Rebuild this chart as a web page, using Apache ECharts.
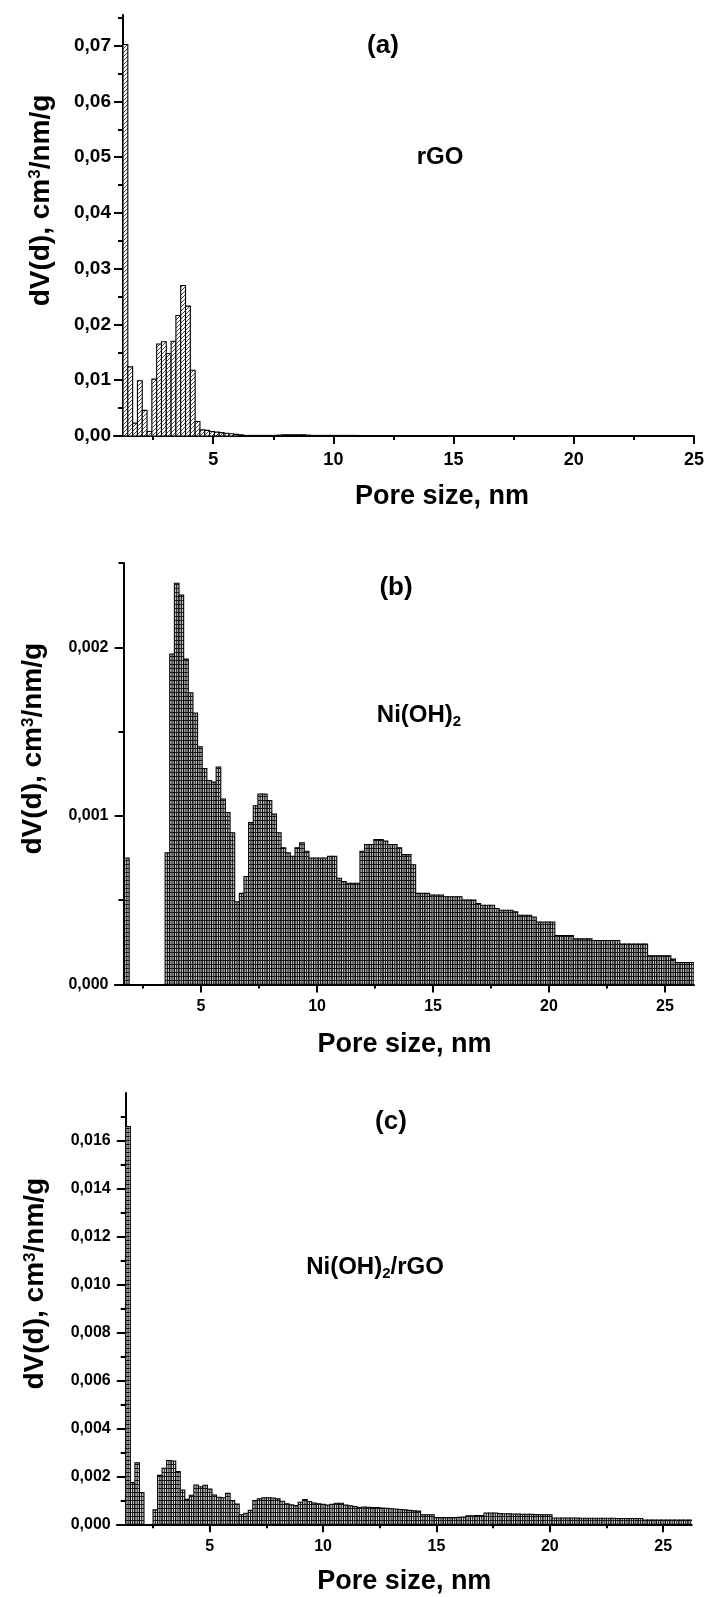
<!DOCTYPE html>
<html><head><meta charset="utf-8">
<script src="https://cdn.jsdelivr.net/npm/echarts@6/dist/echarts.min.js"></script>
<style>html,body{margin:0;padding:0;background:#fff}#c{width:708px;height:1597px}</style>
</head><body><div id="c"></div>
<script>
const FONT = '"Liberation Sans", Arial, Helvetica, sans-serif';

// ---------- data ----------
// (a) rGO : bin centres (nm) and dV(d) values
const rgoSize = [1.35,1.55,1.75,1.95,2.15,2.35,2.55,2.75,2.95,3.15,3.35,3.55,3.75,3.95,4.15,4.35,4.55,4.75,4.95,5.15,5.35,5.55,5.75,5.95,6.15,6.35,6.55,6.75,6.95,7.15,7.35,7.55,7.75,7.95,8.15,8.35,8.55,8.75,8.95,9.15,9.35,9.55,9.75,9.95,10.15,10.35,10.55,10.75,10.95];
const rgoDV = [0.0702,0.0124,0.0023,0.0099,0.0046,0.0008,0.0102,0.0165,0.0169,0.0148,0.0170,0.0216,0.0270,0.0233,0.0118,0.0026,0.0011,0.0010,0.0008,0.0007,0.0006,0.0005,0.0004,0.0003,0.0002,0.0001,0.0001,0.0001,0.0001,0.0001,0.0001,0.0001,0.00015,0.0002,0.0002,0.0002,0.0002,0.0002,0.00015,0.0001,0.0001,0.0001,0.0001,0.0001,0.0001,0.0001,0.0001,0.0001,0.0001];

// (b) Ni(OH)2
const niohSize = [1.8,3.55,3.75,3.95,4.15,4.35,4.55,4.75,4.95,5.15,5.35,5.55,5.75,5.95,6.15,6.35,6.55,6.75,6.95,7.15,7.35,7.55,7.75,7.95,8.15,8.35,8.55,8.75,8.95,9.15,9.35,9.55,9.75,9.95,10.15,10.35,10.55,10.75,10.95,11.15,11.35,11.55,11.75,11.95,12.15,12.35,12.55,12.75,12.95,13.15,13.35,13.55,13.75,13.95,14.15,14.35,14.55,14.75,14.95,15.15,15.35,15.55,15.75,15.95,16.15,16.35,16.55,16.75,16.95,17.15,17.35,17.55,17.75,17.95,18.15,18.35,18.55,18.75,18.95,19.15,19.35,19.55,19.75,19.95,20.15,20.35,20.55,20.75,20.95,21.15,21.35,21.55,21.75,21.95,22.15,22.35,22.55,22.75,22.95,23.15,23.35,23.55,23.75,23.95,24.15,24.35,24.55,24.75,24.95,25.15,25.35,25.55,25.75,25.95,26.15];
const niohDV = [0.00075,
 0.00078,0.00196,0.00238,0.00231,0.00193,0.00173,0.00161,0.00141,0.00128,0.00121,
 0.00120,0.00129,0.00110,0.00102,0.00090,0.00049,0.00054,0.00064,0.00096,0.00106,
 0.00113,0.00113,0.00109,0.00101,0.00090,0.00081,0.00078,0.00076,0.00081,0.00084,
 0.00079,0.00075,0.00075,0.00075,0.00075,0.00076,0.00076,0.00063,0.00061,0.00060,
 0.00060,0.00060,0.00079,0.00083,0.00083,0.00086,0.00086,0.00085,0.00083,0.00083,
 0.00081,0.00077,0.00077,0.00071,0.00054,0.00054,0.00054,0.00053,0.00053,0.00053,
 0.00052,0.00052,0.00052,0.00052,0.00050,0.00050,0.00050,0.00048,0.00047,0.00047,
 0.00047,0.00045,0.00044,0.00044,0.00044,0.00043,0.00041,0.00041,0.00041,0.00040,
 0.00037,0.00037,0.00037,0.00037,0.00029,0.00029,0.00029,0.00029,0.00027,0.00027,
 0.00027,0.00027,0.00026,0.00026,0.00026,0.00026,0.00026,0.00026,0.00024,0.00024,
 0.00024,0.00024,0.00024,0.00024,0.00017,0.00017,0.00017,0.00017,0.00017,0.00015,
 0.00013,0.00013,0.00013,0.00013];

// (c) Ni(OH)2/rGO
const compSize = [1.4,1.6,1.8,2.0,2.2,2.4,2.6,2.8,3.0,3.2,3.4,3.6,3.8,4.0,4.2,4.4,4.6,4.8,5.0,5.2,5.4,5.6,5.8,6.0,6.2,6.4,6.6,6.8,7.0,7.2,7.4,7.6,7.8,8.0,8.2,8.4,8.6,8.8,9.0,9.2,9.4,9.6,9.8,10.0,10.2,10.4,10.6,10.8,11.0,11.2,11.4,11.6,11.8,12.0,12.2,12.4,12.6,12.8,13.0,13.2,13.4,13.6,13.8,14.0,14.2,14.4,14.6,14.8,15.0,15.2,15.4,15.6,15.8,16.0,16.2,16.4,16.6,16.8,17.0,17.2,17.4,17.6,17.8,18.0,18.2,18.4,18.6,18.8,19.0,19.2,19.4,19.6,19.8,20.0,20.2,20.4,20.6,20.8,21.0,21.2,21.4,21.6,21.8,22.0,22.2,22.4,22.6,22.8,23.0,23.2,23.4,23.6,23.8,24.0,24.2,24.4,24.6,24.8,25.0,25.2,25.4,25.6,25.8,26.0,26.2];
const compDV = [
 0.0166,0.00174,0.00257,0.00132,0,0,0.0006,0.00204,0.00234,0.00266,
 0.00264,0.0022,0.00143,0.00104,0.00121,0.00164,0.00157,0.00163,0.00147,0.00122,
 0.00113,0.00111,0.00129,0.00099,0.00085,0.0004,0.00046,0.00058,0.00099,0.00106,
 0.00111,0.00111,0.0011,0.00106,0.00096,0.00086,0.00081,0.00078,0.00092,0.00103,
 0.00095,0.00089,0.00086,0.00083,0.0008,0.00083,0.00088,0.00088,0.0008,0.00077,
 0.00074,0.0007,0.00072,0.00071,0.0007,0.0007,0.00068,0.00067,0.00065,0.00064,
 0.00062,0.0006,0.00058,0.00056,0.00055,0.0004,0.0004,0.0004,0.00028,0.00028,
 0.00028,0.00028,0.00028,0.00029,0.0003,0.00035,0.00035,0.00036,0.00036,0.00047,
 0.00047,0.00047,0.00045,0.00044,0.00044,0.00043,0.00043,0.00042,0.00042,0.00042,
 0.00041,0.0004,0.0004,0.0004,0.00026,0.00026,0.00026,0.00026,0.00026,0.00026,
 0.00025,0.00025,0.00025,0.00025,0.00025,0.00025,0.00025,0.00025,0.00024,0.00024,
 0.00024,0.00024,0.00024,0.00024,0.00018,0.00018,0.00018,0.00018,0.00018,0.00018,
 0.00018,0.00018,0.00018,0.00018,0.00018];

// tick values
const xMajor = [5,10,15,20,25];
const xMinor = [2.5,7.5,12.5,17.5,22.5];
const yMajorA = [0,0.01,0.02,0.03,0.04,0.05,0.06,0.07];
const yMinorA = [0.005,0.015,0.025,0.035,0.045,0.055,0.065,0.075];
const yMajorB = [0,0.001,0.002];
const yMinorB = [0.0005,0.0015,0.0025];
const yMajorC = [0,0.002,0.004,0.006,0.008,0.010,0.012,0.014,0.016];
const yMinorC = [0.001,0.003,0.005,0.007,0.009,0.011,0.013,0.015,0.017];

const BIN = 0.2;

// ---------- patterns ----------
function diagPattern(){
  const c = document.createElement('canvas'); c.width = 4; c.height = 4;
  const g = c.getContext('2d');
  g.fillStyle = '#fff'; g.fillRect(0,0,4,4);
  g.strokeStyle = '#333'; g.lineWidth = 0.9;
  g.beginPath(); g.moveTo(-1,5); g.lineTo(5,-1); g.moveTo(-1,1); g.lineTo(1,-1); g.moveTo(3,5); g.lineTo(5,3); g.stroke();
  return {image: c, repeat: 'repeat'};
}
function ladderPattern(bg){
  const c = document.createElement('canvas'); c.width = 4; c.height = 4;
  const g = c.getContext('2d');
  g.fillStyle = bg; g.fillRect(0,0,4,4);
  g.fillStyle = '#222'; g.fillRect(0,0,4,1);
  return {image: c, repeat: 'repeat'};
}
const patA = diagPattern();
const patB = ladderPattern('#c2c2c2');
const patC = ladderPattern('#d6d6d6');

function makeRender(fill, centerLine){
  return function(params, api){
    const x = api.value(0), y = api.value(1);
    if (!(y > 0)) return null;
    const p0 = api.coord([x - BIN/2, y]);
    const p1 = api.coord([x + BIN/2, 0]);
    const shape = {x: p0[0], y: p0[1], width: p1[0]-p0[0], height: p1[1]-p0[1]};
    const children = [{type:'rect', shape: shape, style:{fill: fill, stroke:'#000', lineWidth: 1.1}}];
    if (centerLine){
      const cx = (p0[0]+p1[0])/2;
      children.push({type:'line', shape:{x1:cx, y1:p0[1], x2:cx, y2:p1[1]}, style:{stroke:'#111', lineWidth:1}});
    }
    return {type:'group', children: children};
  };
}

// ---------- axes helpers ----------
const AXC = '#000';
function xAxesFor(gi, min, max, fs, margin, nameGap, namePad){
  return [
    {type:'value', gridIndex:gi, min:min, max:max, position:'bottom',
     axisLine:{show:true, onZero:false, lineStyle:{color:AXC, width:2}},
     axisTick:{show:true, customValues:xMajor, length:8, lineStyle:{color:AXC, width:2}},
     axisLabel:{show:true, customValues:xMajor, color:'#000', fontFamily:FONT, fontWeight:'bold', fontSize:fs, margin:margin,
       formatter: v => String(v)},
     splitLine:{show:false},
     name:'Pore size, nm', nameLocation:'middle', nameGap:nameGap,
     nameTextStyle:{fontFamily:FONT, fontWeight:'bold', fontSize:27, color:'#000', padding:namePad}},
    {type:'value', gridIndex:gi, min:min, max:max, position:'bottom',
     axisLine:{show:false}, axisLabel:{show:false}, splitLine:{show:false},
     axisTick:{show:true, customValues:xMinor, length:4, lineStyle:{color:AXC, width:2}}}
  ];
}
function yAxesFor(gi, max, major, minor, digits, fs, margin, offset, nameGap){
  const rich = {
    a:{fontFamily:FONT, fontWeight:'bold', fontSize:28, color:'#000', verticalAlign:'bottom'},
    s:{fontFamily:FONT, fontWeight:'bold', fontSize:17, color:'#000', verticalAlign:'top', lineHeight:17, padding:[0,0,14,0]}
  };
  return [
    {type:'value', gridIndex:gi, min:0, max:max, position:'left', offset:offset,
     axisLine:{show:true, onZero:false, lineStyle:{color:AXC, width:2}},
     axisTick:{show:true, customValues:major, length:9, lineStyle:{color:AXC, width:2}},
     axisLabel:{show:true, customValues:major, color:'#000', fontFamily:FONT, fontWeight:'bold', fontSize:fs, margin:margin,
       formatter: v => Number(v).toFixed(digits).replace('.', ',')},
     splitLine:{show:false},
     name:'{a|dV(d), cm}{s|3}{a|/nm/g}', nameLocation:'middle', nameGap:nameGap, nameRotate:90,
     nameTextStyle:{rich: rich, padding:[0,0,0,50]}},
    {type:'value', gridIndex:gi, min:0, max:max, position:'left', offset:offset,
     axisLine:{show:false}, axisLabel:{show:false}, splitLine:{show:false},
     axisTick:{show:true, customValues:minor, length:5, lineStyle:{color:AXC, width:2}}}
  ];
}

const chart = echarts.init(document.getElementById('c'), null, {renderer:'canvas'});

const xAxis = [].concat(
  xAxesFor(0, 0.875, 25, 18, 15, 47, [0,0,0,76]),
  xAxesFor(1, 1.29, 26.25, 16, 14, 47, [0,0,0,0]),
  xAxesFor(2, 0.91, 26.26, 16, 14, 44, [0,0,0,0])
);
const yAxis = [].concat(
  yAxesFor(0, 0.0755, yMajorA, yMinorA, 2, 19, 12, -9, 68),
  yAxesFor(1, 0.0025, yMajorB, yMinorB, 3, 16, 15, -8.5, 76),
  yAxesFor(2, 0.018, yMajorC, yMinorC, 3, 16, 15, -8.7, 76)
);

function zip(a, b){ return a.map((s, i) => [s, b[i]]); }

const option = {
  animation: false,
  backgroundColor: '#fff',
  grid: [
    {left:114, right:14, top:15, height:421},
    {left:115, right:14, top:563, height:421.4},
    {left:117, right:16.3, top:1093, height:431.3}
  ],
  xAxis: xAxis,
  yAxis: yAxis,
  series: [
    {type:'custom', name:'rGO', xAxisIndex:0, yAxisIndex:0, clip:true, silent:true,
     renderItem: makeRender(patA, false), encode:{x:0, y:1}, data: zip(rgoSize, rgoDV)},
    {type:'custom', name:'Ni(OH)2', xAxisIndex:2, yAxisIndex:2, clip:true, silent:true,
     renderItem: makeRender(patB, true), encode:{x:0, y:1}, data: zip(niohSize, niohDV)},
    {type:'custom', name:'Ni(OH)2/rGO', xAxisIndex:4, yAxisIndex:4, clip:true, silent:true,
     renderItem: makeRender(patC, true), encode:{x:0, y:1}, data: zip(compSize, compDV)}
  ],
  graphic: [
    {type:'text', x:383, y:46, style:{text:'(a)', font:'bold 26px '+FONT, fill:'#000', align:'center', verticalAlign:'middle'}},
    {type:'text', x:440, y:157, style:{text:'rGO', font:'bold 24px '+FONT, fill:'#000', align:'center', verticalAlign:'middle'}},
    {type:'text', x:396, y:588, style:{text:'(b)', font:'bold 26px '+FONT, fill:'#000', align:'center', verticalAlign:'middle'}},
    {type:'text', x:419, y:716, style:{text:'{a|Ni(OH)}{s|2}', align:'center', verticalAlign:'middle',
      rich:{a:{fontFamily:FONT, fontWeight:'bold', fontSize:24, fill:'#000', verticalAlign:'top', lineHeight:26},
            s:{fontFamily:FONT, fontWeight:'bold', fontSize:15, fill:'#000', verticalAlign:'bottom', lineHeight:15, padding:[16,0,0,0]}}}},
    {type:'text', x:391, y:1122, style:{text:'(c)', font:'bold 26px '+FONT, fill:'#000', align:'center', verticalAlign:'middle'}},
    {type:'text', x:375, y:1268, style:{text:'{a|Ni(OH)}{s|2}{a|/rGO}', align:'center', verticalAlign:'middle',
      rich:{a:{fontFamily:FONT, fontWeight:'bold', fontSize:24, fill:'#000', verticalAlign:'top', lineHeight:26},
            s:{fontFamily:FONT, fontWeight:'bold', fontSize:15, fill:'#000', verticalAlign:'bottom', lineHeight:15, padding:[16,0,0,0]}}}}
  ]
};
chart.setOption(option);
</script></body></html>
